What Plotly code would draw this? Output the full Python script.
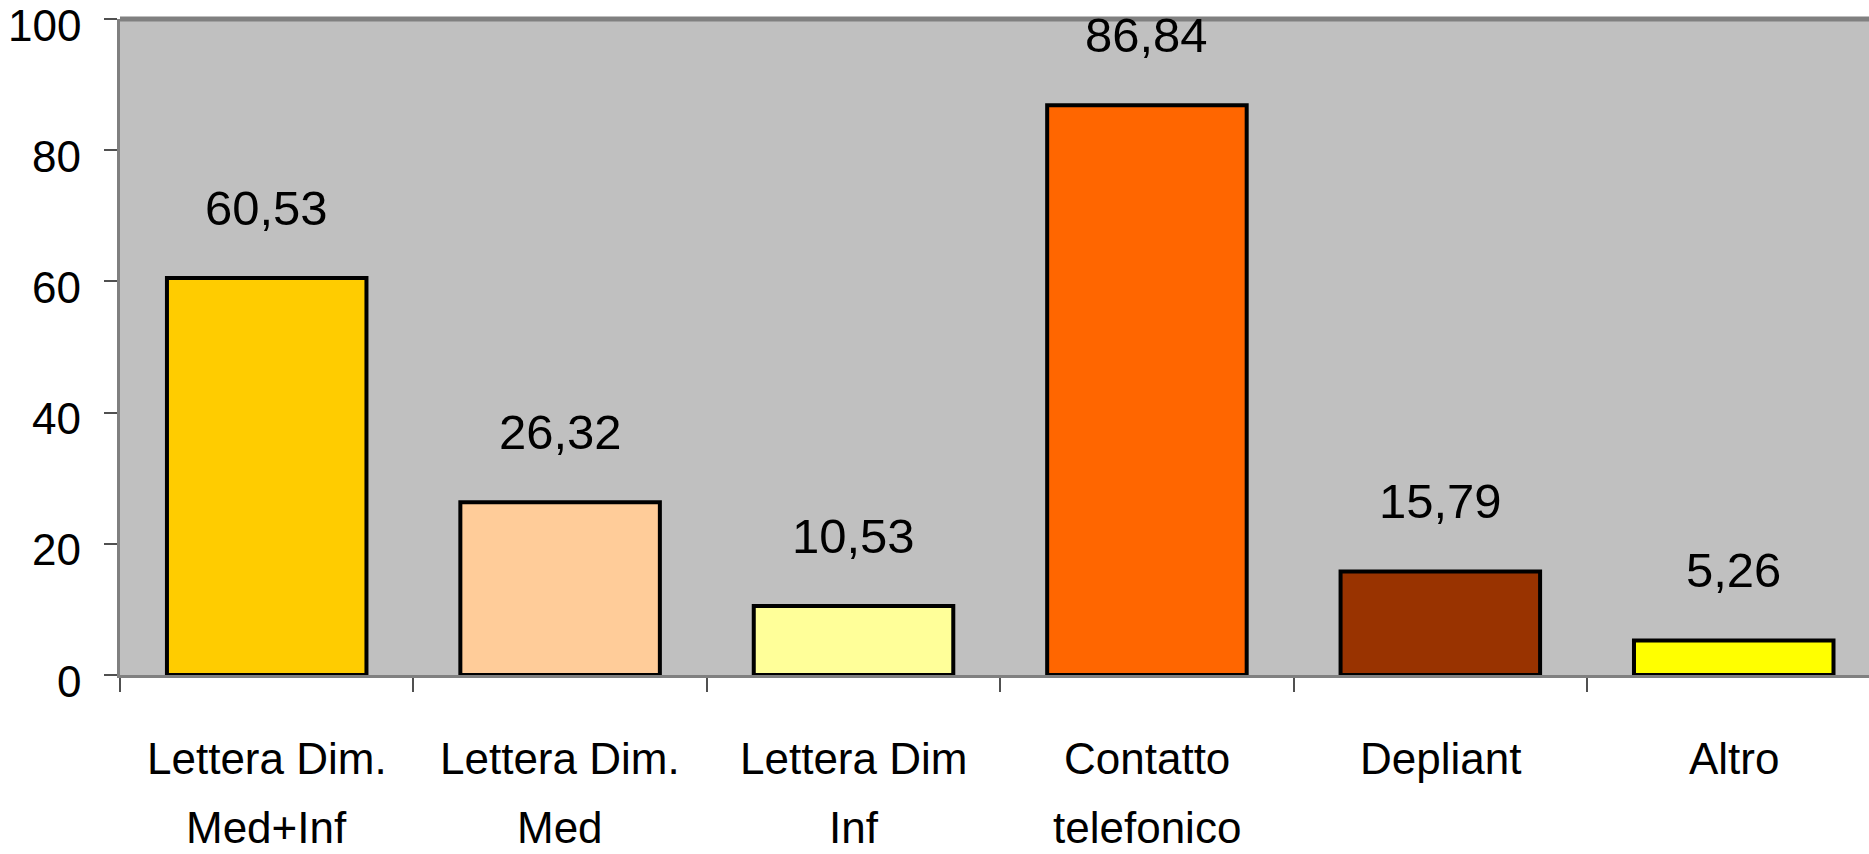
import plotly.graph_objects as go

# Canali di comunicazione e percentuale di utilizzo
categories = ["Lettera Dim.\nMed+Inf", "Lettera Dim.\nMed", "Lettera Dim\nInf",
              "Contatto\ntelefonico", "Depliant", "Altro"]
values = [60.53, 26.32, 10.53, 86.84, 15.79, 5.26]
value_labels = ["60,53", "26,32", "10,53", "86,84", "15,79", "5,26"]
bar_colors = ["#FFCC00", "#FFCC99", "#FFFF99", "#FF6600", "#993300", "#FFFF00"]
y_ticks = [0, 20, 40, 60, 80, 100]
y_tick_text = ["0", "20", "40", "60", "80", "100"]

FONT = "Liberation Sans, Arial, sans-serif"

fig = go.Figure()
fig.add_trace(go.Bar(
    x=categories,
    y=values,
    width=0.68,
    marker=dict(color=bar_colors, line=dict(color="#000000", width=4)),
    hoverinfo="skip",
))

annotations = []
# value labels above each bar
for cat, v, lab in zip(categories, values, value_labels):
    annotations.append(dict(
        x=cat, y=v, xref="x", yref="y", text=lab, showarrow=False,
        yanchor="bottom", yshift=41,
        font=dict(family=FONT, size=49, color="#000000"),
    ))
# category labels below the axis, one annotation per line
for cat in categories:
    for li, line in enumerate(cat.split("\n")):
        annotations.append(dict(
            x=cat, y=0, xref="x", yref="y", text=line, showarrow=False,
            yanchor="middle", yshift=-83 - 69 * li,
            font=dict(family=FONT, size=44, color="#000000"),
        ))
# value-axis labels, set a little below their tick marks
for tv, tt in zip(y_ticks, y_tick_text):
    annotations.append(dict(
        x=0, y=tv, xref="paper", yref="y", text=tt, showarrow=False,
        xanchor="right", yanchor="middle", xshift=-37, yshift=-6,
        font=dict(family=FONT, size=44, color="#000000"),
    ))

fig.update_layout(
    width=1869, height=854,
    margin=dict(l=120, r=0, t=19, b=179, pad=0, autoexpand=False),
    paper_bgcolor="#FFFFFF",
    plot_bgcolor="#C0C0C0",
    showlegend=False,
    annotations=annotations,
    shapes=[dict(type="line", xref="paper", yref="paper", x0=0, x1=1, y0=1, y1=1,
                 line=dict(color="#808080", width=5))],
)
fig.update_xaxes(
    type="category",
    range=[-0.5, 5.461],
    showticklabels=False,
    tickson="boundaries", ticks="outside", ticklen=14, tickwidth=2, tickcolor="#505050",
    showline=True, linecolor="#808080", linewidth=3,
    showgrid=False, zeroline=False, fixedrange=True, automargin=False,
)
fig.update_yaxes(
    range=[0, 100.0001],
    tickmode="array", tickvals=y_ticks, showticklabels=False,
    ticks="outside", ticklen=13, tickwidth=2, tickcolor="#505050",
    showline=True, linecolor="#808080", linewidth=2.5,
    showgrid=False, zeroline=False, fixedrange=True, automargin=False,
)

fig.write_html("out.html", config={"displayModeBar": False})
